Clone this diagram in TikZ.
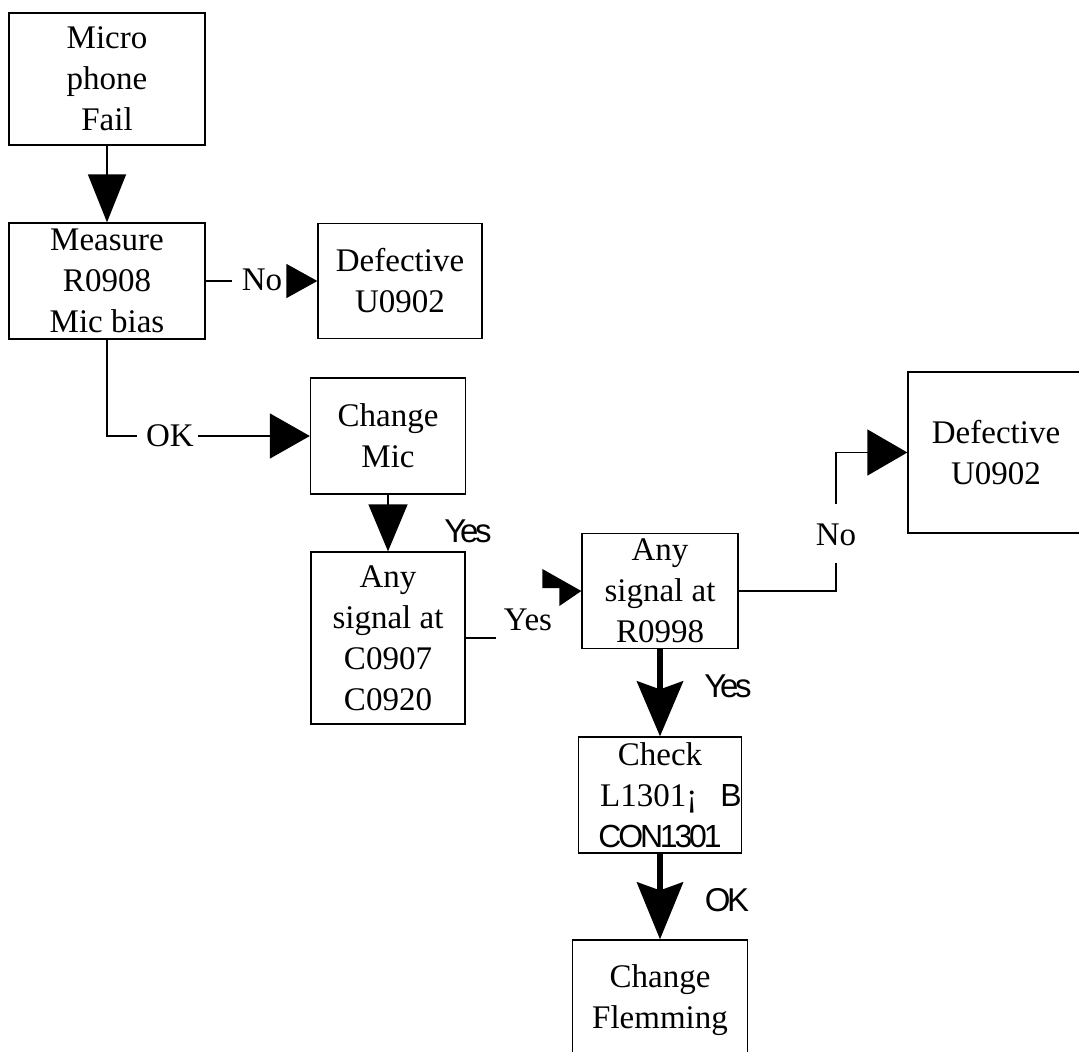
\documentclass[tikz,border=0pt]{standalone}
\usepackage{fontspec}
\setmainfont{Liberation Serif}
\newfontfamily\labsans[LetterSpace=-10]{Liberation Sans}
\usetikzlibrary{arrows.meta,calc}
\begin{document}
\begin{tikzpicture}[x=1pt,y=-1pt,
  box/.style={draw,line width=1.3pt,rectangle,inner sep=0pt,align=center,
              font=\fontsize{33}{41}\selectfont},
  lab/.style={inner sep=0pt,font=\fontsize{33}{41}\selectfont},
  slab/.style={inner sep=0pt,font=\fontsize{33}{40}\labsans},
  conn/.style={line width=1.3pt},
  thick conn/.style={line width=6pt}]
\useasboundingbox (0,0) rectangle (1079,1052);
\clip (0,0) rectangle (1079,1052);
% boxes
\node[box,minimum width=196pt,minimum height=132pt] (mpf) at (107,79) {Micro\\phone\\Fail};
\node[box,minimum width=196pt,minimum height=116pt] (meas) at (107,281) {Measure\\R0908\\Mic bias};
\node[box,minimum width=164pt,minimum height=115pt] (def1) at (400,281) {Defective\\U0902};
\node[box,minimum width=155pt,minimum height=116pt] (cmic) at (388,436) {Change\\Mic};
\node[box,minimum width=154pt,minimum height=172pt] (c0907) at (388,638) {Any\\signal at\\C0907\\C0920};
\node[box,minimum width=156pt,minimum height=115pt] (r0998) at (660,591) {Any\\signal at\\R0998};
\node[box,minimum width=176pt,minimum height=161pt] (def2) at (996,452.5) {Defective\\U0902};
\node[box,minimum width=155pt,minimum height=116pt] (check) at (660,795) {Check\\\hspace*{22pt}L1301¡\hspace{0.7em}{\labsans\fontsize{32}{40}\selectfont B}\\{\labsans\fontsize{32}{40}\selectfont CON1301}};
\node[box,minimum width=175pt,minimum height=120pt] (flem) at (660,1000) {Change\\Flemming};
% labels
\node[lab] (no1) at (262,280) {No};
\node[lab] (ok1) at (170,436) {OK};
\node[slab] (yes1) at (468,531) {Yes};
\node[lab] (yes2) at (528,620) {Yes};
\node[lab] (no2) at (836,535) {No};
\node[slab] (yes3) at (728,686) {Yes};
\node[slab] (ok2) at (727,900) {OK};
% connectors
\draw[conn,-{Triangle[length=48pt,width=38pt]}] (mpf.south) -- (meas.north);
\draw[conn] (meas.east) -- ($(no1.west)+(-10,1)$);
\draw[conn,-{Triangle[length=31pt,width=34pt]}] ($(no1.east)+(5,1)$) -- (def1.west);
\draw[conn] (meas.south) |- ($(ok1.west)+(-9,0)$);
\draw[conn,-{Triangle[length=40pt,width=45pt]}] ($(ok1.east)+(4,0)$) -- (cmic.west);
\draw[conn,-{Triangle[length=47pt,width=39pt]}] (cmic.south) -- (c0907.north);
\draw[conn] (c0907.east) -- ++(30,0);
\fill (r0998.west) -- ++(-22,15) -- ++(0,-18) -- ++(-17,0) -- ++(0,-19) -- cycle;
\draw[conn] (r0998.east) -| ($(no2.south)+(0,17)$);
\draw[conn,-{Triangle[length=40pt,width=46pt]}] ($(no2.north)+(0,-20)$) |- (def2.west);
\draw[thick conn,-{Stealth[length=55pt,width=46pt,inset=8pt]}] (r0998.south) -- (check.north);
\draw[thick conn,-{Stealth[length=57pt,width=46pt,inset=8pt]}] (check.south) -- (flem.north);
\end{tikzpicture}
\end{document}
